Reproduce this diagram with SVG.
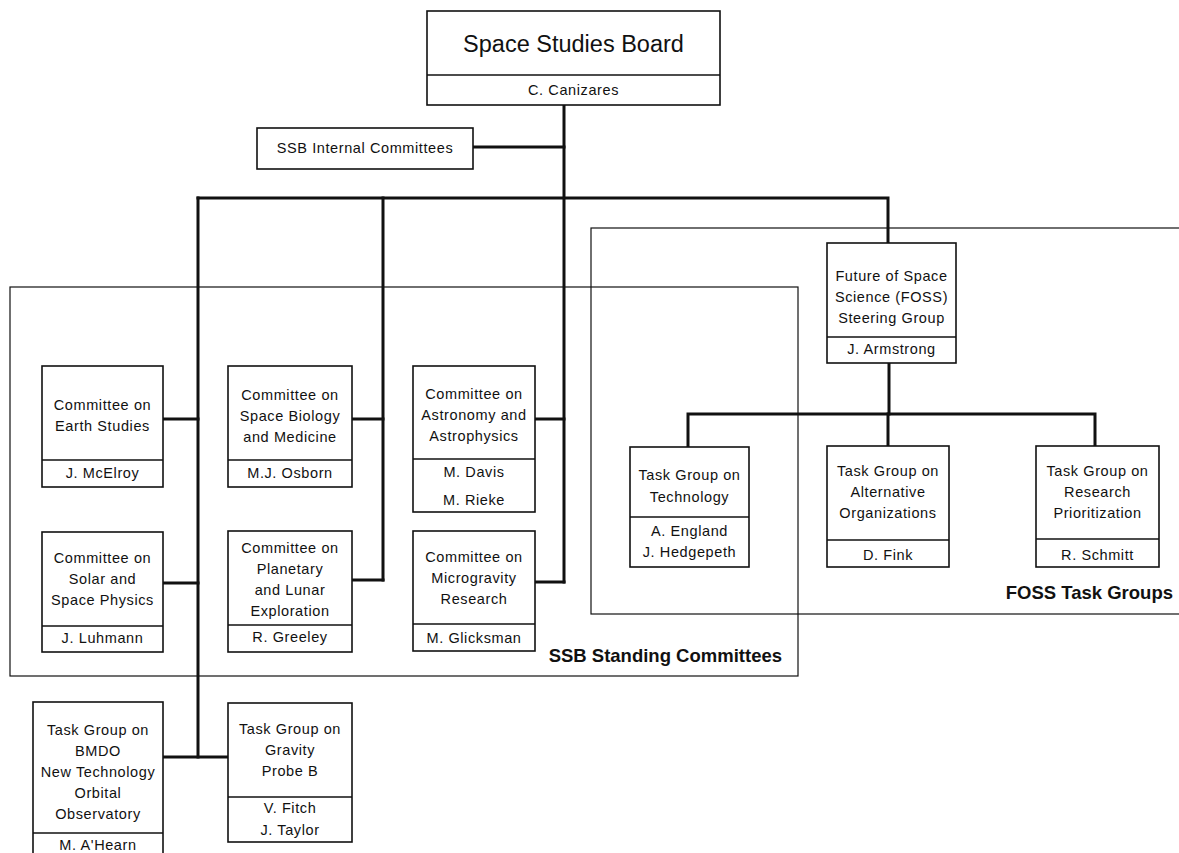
<svg xmlns="http://www.w3.org/2000/svg" width="1179" height="853" viewBox="0 0 1179 853">
<style>
  text { font-family: "Liberation Sans", Arial, sans-serif; fill: #111; text-anchor: middle; }
  .t { font-size: 14.5px; letter-spacing: 0.6px; }
  .title { font-size: 23.5px; }
  .lbl { font-size: 18.5px; font-weight: bold; text-anchor: end; }
  .box { fill: #fff; stroke: #111; stroke-width: 1.6; }
  .div { stroke: #111; stroke-width: 1.4; }
  .region { fill: none; stroke: #111; stroke-width: 1.2; }
  .conn { fill: none; stroke: #111; stroke-width: 3; stroke-linecap: square; }
</style>
<rect width="1179" height="853" fill="#fff"/>

<!-- Regions -->
<g id="region-ssb-standing">
  <rect class="region" x="10" y="287" width="788" height="389"/>
  <text class="lbl" x="782" y="662">SSB Standing Committees</text>
</g>
<g id="region-foss">
  <rect class="region" x="591" y="228" width="600" height="386"/>
  <text class="lbl" x="1173" y="599">FOSS Task Groups</text>
</g>

<!-- Connectors -->
<g id="connectors">
  <path class="conn" d="M564,105 V582"/>
  <path class="conn" d="M473,147 H564"/>
  <path class="conn" d="M198,198 H888 V243"/>
  <path class="conn" d="M198,198 V757"/>
  <path class="conn" d="M383,198 V580"/>
  <path class="conn" d="M163,419 H198"/>
  <path class="conn" d="M352,419 H383"/>
  <path class="conn" d="M535,419 H564"/>
  <path class="conn" d="M163,583 H198"/>
  <path class="conn" d="M352,580 H383"/>
  <path class="conn" d="M535,582 H564"/>
  <path class="conn" d="M163,757 H228"/>
  <path class="conn" d="M889,363 V414"/>
  <path class="conn" d="M688,447 V414 H1095 V446"/>
  <path class="conn" d="M888,414 V446"/>
</g>

<!-- Nodes -->
<g id="space-studies-board">
  <rect class="box" x="427" y="11" width="293" height="94"/>
  <line class="div" x1="427" y1="75" x2="720" y2="75"/>
  <text class="title" x="573.5" y="52">Space Studies Board</text>
  <text class="t" x="573.5" y="95">C. Canizares</text>
</g>

<g id="ssb-internal-committees">
  <rect class="box" x="257" y="128" width="216" height="41"/>
  <text class="t" x="365" y="153">SSB Internal Committees</text>
</g>

<g id="earth-studies">
  <rect class="box" x="42" y="366" width="121" height="121"/>
  <line class="div" x1="42" y1="460" x2="163" y2="460"/>
  <text class="t" x="102.5" y="410">Committee on</text>
  <text class="t" x="102.5" y="431">Earth Studies</text>
  <text class="t" x="102.5" y="478">J. McElroy</text>
</g>

<g id="space-biology">
  <rect class="box" x="228" y="366" width="124" height="121"/>
  <line class="div" x1="228" y1="460" x2="352" y2="460"/>
  <text class="t" x="290" y="400">Committee on</text>
  <text class="t" x="290" y="421">Space Biology</text>
  <text class="t" x="290" y="442">and Medicine</text>
  <text class="t" x="290" y="478">M.J. Osborn</text>
</g>

<g id="astronomy">
  <rect class="box" x="413" y="366" width="122" height="146"/>
  <line class="div" x1="413" y1="459" x2="535" y2="459"/>
  <text class="t" x="474" y="399">Committee on</text>
  <text class="t" x="474" y="420">Astronomy and</text>
  <text class="t" x="474" y="441">Astrophysics</text>
  <text class="t" x="474" y="477">M. Davis</text>
  <text class="t" x="474" y="505">M. Rieke</text>
</g>

<g id="solar-space-physics">
  <rect class="box" x="42" y="532" width="121" height="120"/>
  <line class="div" x1="42" y1="626" x2="163" y2="626"/>
  <text class="t" x="102.5" y="563">Committee on</text>
  <text class="t" x="102.5" y="584">Solar and</text>
  <text class="t" x="102.5" y="605">Space Physics</text>
  <text class="t" x="102.5" y="643">J. Luhmann</text>
</g>

<g id="planetary-lunar">
  <rect class="box" x="228" y="531" width="124" height="121"/>
  <line class="div" x1="228" y1="625" x2="352" y2="625"/>
  <text class="t" x="290" y="553">Committee on</text>
  <text class="t" x="290" y="574">Planetary</text>
  <text class="t" x="290" y="595">and Lunar</text>
  <text class="t" x="290" y="616">Exploration</text>
  <text class="t" x="290" y="642">R. Greeley</text>
</g>

<g id="microgravity">
  <rect class="box" x="413" y="531" width="122" height="120"/>
  <line class="div" x1="413" y1="624" x2="535" y2="624"/>
  <text class="t" x="474" y="562">Committee on</text>
  <text class="t" x="474" y="583">Microgravity</text>
  <text class="t" x="474" y="604">Research</text>
  <text class="t" x="474" y="643">M. Glicksman</text>
</g>

<g id="bmdo">
  <rect class="box" x="33" y="702" width="130" height="165"/>
  <line class="div" x1="33" y1="833" x2="163" y2="833"/>
  <text class="t" x="98" y="735">Task Group on</text>
  <text class="t" x="98" y="756">BMDO</text>
  <text class="t" x="98" y="777">New Technology</text>
  <text class="t" x="98" y="798">Orbital</text>
  <text class="t" x="98" y="819">Observatory</text>
  <text class="t" x="98" y="850">M. A'Hearn</text>
</g>

<g id="gravity-probe-b">
  <rect class="box" x="228" y="703" width="124" height="139"/>
  <line class="div" x1="228" y1="797" x2="352" y2="797"/>
  <text class="t" x="290" y="734">Task Group on</text>
  <text class="t" x="290" y="755">Gravity</text>
  <text class="t" x="290" y="776">Probe B</text>
  <text class="t" x="290" y="813">V. Fitch</text>
  <text class="t" x="290" y="835">J. Taylor</text>
</g>

<g id="foss-steering">
  <rect class="box" x="827" y="243" width="129" height="120"/>
  <line class="div" x1="827" y1="337" x2="956" y2="337"/>
  <text class="t" x="891.5" y="281">Future of Space</text>
  <text class="t" x="891.5" y="302">Science (FOSS)</text>
  <text class="t" x="891.5" y="323">Steering Group</text>
  <text class="t" x="891.5" y="354">J. Armstrong</text>
</g>

<g id="tg-technology">
  <rect class="box" x="630" y="447" width="119" height="120"/>
  <line class="div" x1="630" y1="517" x2="749" y2="517"/>
  <text class="t" x="689.5" y="480">Task Group on</text>
  <text class="t" x="689.5" y="502">Technology</text>
  <text class="t" x="689.5" y="536">A. England</text>
  <text class="t" x="689.5" y="557">J. Hedgepeth</text>
</g>

<g id="tg-alternative">
  <rect class="box" x="827" y="446" width="122" height="121"/>
  <line class="div" x1="827" y1="540" x2="949" y2="540"/>
  <text class="t" x="888" y="476">Task Group on</text>
  <text class="t" x="888" y="497">Alternative</text>
  <text class="t" x="888" y="518">Organizations</text>
  <text class="t" x="888" y="560">D. Fink</text>
</g>

<g id="tg-research">
  <rect class="box" x="1036" y="446" width="123" height="121"/>
  <line class="div" x1="1036" y1="539" x2="1159" y2="539"/>
  <text class="t" x="1097.5" y="476">Task Group on</text>
  <text class="t" x="1097.5" y="497">Research</text>
  <text class="t" x="1097.5" y="518">Prioritization</text>
  <text class="t" x="1097.5" y="560">R. Schmitt</text>
</g>
</svg>
